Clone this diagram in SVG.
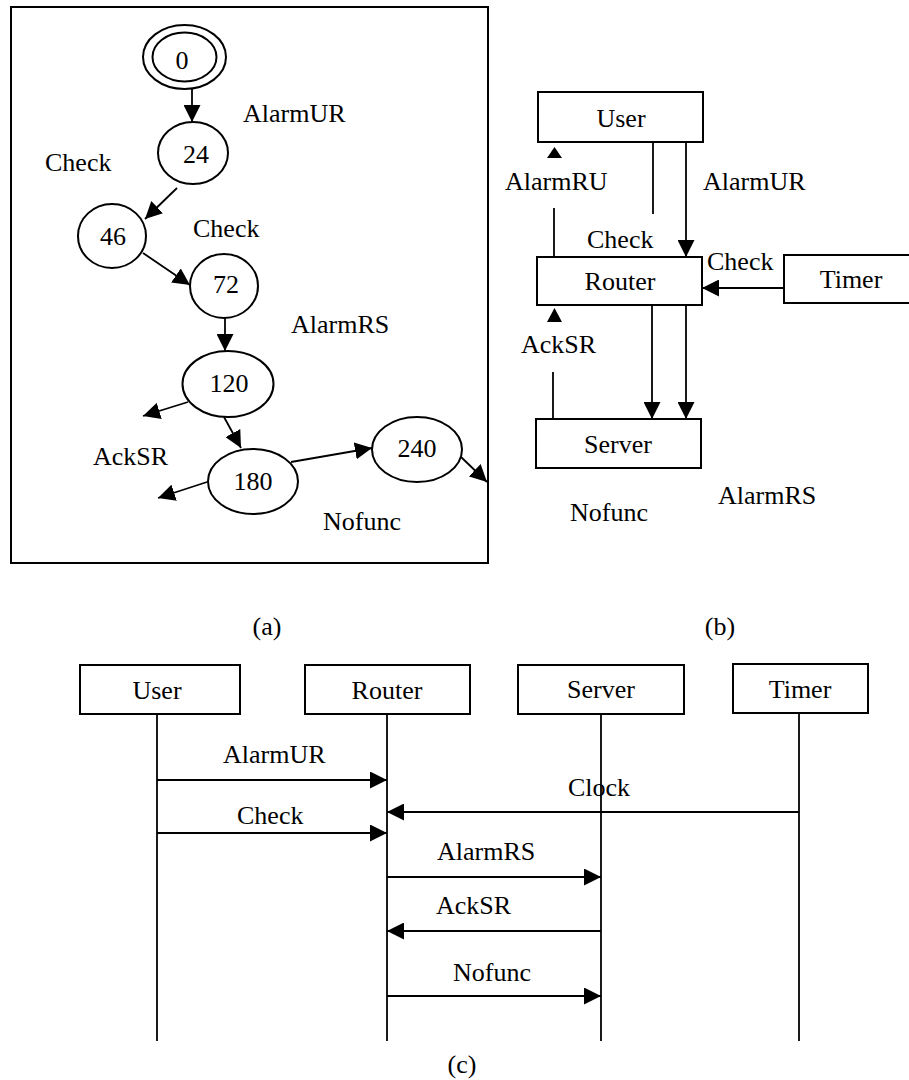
<svg xmlns="http://www.w3.org/2000/svg" width="909" height="1080" viewBox="0 0 909 1080">
<defs>
<style>
text{font-family:"Liberation Serif","Times New Roman",serif;font-size:26px;fill:#000}
.m{text-anchor:middle}
.n{fill:#fff;stroke:#000;stroke-width:2}
.b{fill:#fff;stroke:#000;stroke-width:2}
.l{stroke:#000;stroke-width:1.8;fill:none}
.a{stroke:#000;stroke-width:1.8;fill:none;marker-end:url(#ah)}
.h{fill:#000}
</style>
<marker id="ah" viewBox="0 0 17 17" refX="17" refY="8.5" markerWidth="17" markerHeight="17" markerUnits="userSpaceOnUse" orient="auto">
<path d="M0,0 L17,8.5 L0,17 Z" fill="#000"/>
</marker>
</defs>
<rect width="909" height="1080" fill="#fff"/>

<!-- (a) -->
<rect x="11" y="7" width="477" height="556" fill="none" stroke="#000" stroke-width="2"/>
<g id="a-connectors">
<line class="a" x1="192" y1="89" x2="192" y2="122"/>
<line class="a" x1="177" y1="188" x2="145" y2="219"/>
<line class="a" x1="143" y1="253" x2="190" y2="285"/>
<line class="a" x1="225" y1="318" x2="225" y2="351"/>
<line class="a" x1="188" y1="402" x2="143" y2="416"/>
<line class="a" x1="224" y1="417" x2="241" y2="448"/>
<line class="a" x1="207" y1="482" x2="158" y2="498"/>
<line class="a" x1="291" y1="462" x2="372" y2="448"/>
<line class="a" x1="461" y1="457" x2="487" y2="482"/>
</g>
<g id="a-n0"><ellipse class="n" cx="184.5" cy="57" rx="41.5" ry="32"/><ellipse class="n" cx="184.5" cy="57" rx="32" ry="24.5"/><text class="m" x="182" y="69">0</text></g>
<g id="a-n24"><ellipse class="n" cx="193" cy="153" rx="35" ry="31"/><text class="m" x="196" y="163">24</text></g>
<g id="a-n46"><ellipse class="n" cx="112" cy="236" rx="34" ry="32"/><text class="m" x="113" y="245">46</text></g>
<g id="a-n72"><ellipse class="n" cx="224" cy="286" rx="34" ry="32"/><text class="m" x="226" y="293">72</text></g>
<g id="a-n120"><ellipse class="n" cx="228" cy="384" rx="45.5" ry="33"/><text class="m" x="229" y="392">120</text></g>
<g id="a-n180"><ellipse class="n" cx="253" cy="481.5" rx="45" ry="32.5"/><text class="m" x="253" y="490">180</text></g>
<g id="a-n240"><ellipse class="n" cx="417" cy="449.5" rx="45" ry="32.5"/><text class="m" x="417" y="457">240</text></g>
<g id="a-labels">
<text x="243" y="122">AlarmUR</text>
<text x="45" y="171">Check</text>
<text x="193" y="237">Check</text>
<text x="291" y="333">AlarmRS</text>
<text x="93" y="465">AckSR</text>
<text x="323" y="530">Nofunc</text>
</g>
<text class="m" x="267" y="635">(a)</text>

<!-- (b) -->
<g id="b-connectors">
<line class="l" x1="554" y1="257" x2="554" y2="208"/>
<polygon class="h" points="547,158 562,158 554.5,147"/>
<line class="l" x1="653" y1="142" x2="653" y2="214"/>
<line class="a" x1="686" y1="142" x2="686" y2="257"/>
<line class="a" x1="784" y1="288" x2="702" y2="288"/>
<line class="l" x1="553" y1="419" x2="553" y2="372"/>
<polygon class="h" points="547,322 562,322 554.5,308"/>
<line class="a" x1="652" y1="305" x2="652" y2="419"/>
<line class="a" x1="686" y1="305" x2="686" y2="419"/>
</g>
<g id="b-user"><rect class="b" x="538" y="92" width="165" height="50"/><text class="m" x="621" y="127">User</text></g>
<g id="b-router"><rect class="b" x="537" y="257" width="165" height="48"/><text class="m" x="620" y="290">Router</text></g>
<g id="b-server"><rect class="b" x="536" y="419" width="165" height="49"/><text class="m" x="618" y="453">Server</text></g>
<g id="b-timer"><rect class="b" x="784" y="255" width="130" height="48"/><text class="m" x="851" y="288">Timer</text></g>
<g id="b-labels">
<text x="505" y="190">AlarmRU</text>
<text x="703" y="190">AlarmUR</text>
<text x="587" y="248">Check</text>
<text x="707" y="270">Check</text>
<text x="521" y="353">AckSR</text>
<text x="718" y="504">AlarmRS</text>
<text x="570" y="521">Nofunc</text>
</g>
<text class="m" x="720" y="635">(b)</text>

<!-- (c) -->
<g id="c-lifelines">
<line class="l" x1="157" y1="714" x2="157" y2="1041"/>
<line class="l" x1="387" y1="714" x2="387" y2="1041"/>
<line class="l" x1="601" y1="714" x2="601" y2="1041"/>
<line class="l" x1="799" y1="714" x2="799" y2="1041"/>
</g>
<g id="c-user"><rect class="b" x="80" y="665" width="160" height="49"/><text class="m" x="157" y="699">User</text></g>
<g id="c-router"><rect class="b" x="305" y="665" width="165" height="49"/><text class="m" x="387" y="699">Router</text></g>
<g id="c-server"><rect class="b" x="518" y="665" width="166" height="49"/><text class="m" x="601" y="698">Server</text></g>
<g id="c-timer"><rect class="b" x="733" y="664" width="135" height="49"/><text class="m" x="800" y="698">Timer</text></g>
<g id="c-messages">
<line class="a" x1="157" y1="780" x2="387" y2="780"/>
<line class="a" x1="799" y1="812" x2="387" y2="812"/>
<line class="a" x1="157" y1="833" x2="387" y2="833"/>
<line class="a" x1="387" y1="877" x2="601" y2="877"/>
<line class="a" x1="601" y1="931" x2="387" y2="931"/>
<line class="a" x1="387" y1="996" x2="601" y2="996"/>
</g>
<g id="c-labels">
<text x="223" y="763">AlarmUR</text>
<text x="568" y="796">Clock</text>
<text x="237" y="824">Check</text>
<text x="437" y="860">AlarmRS</text>
<text x="436" y="914">AckSR</text>
<text x="453" y="981">Nofunc</text>
</g>
<text class="m" x="462" y="1073">(c)</text>
</svg>
